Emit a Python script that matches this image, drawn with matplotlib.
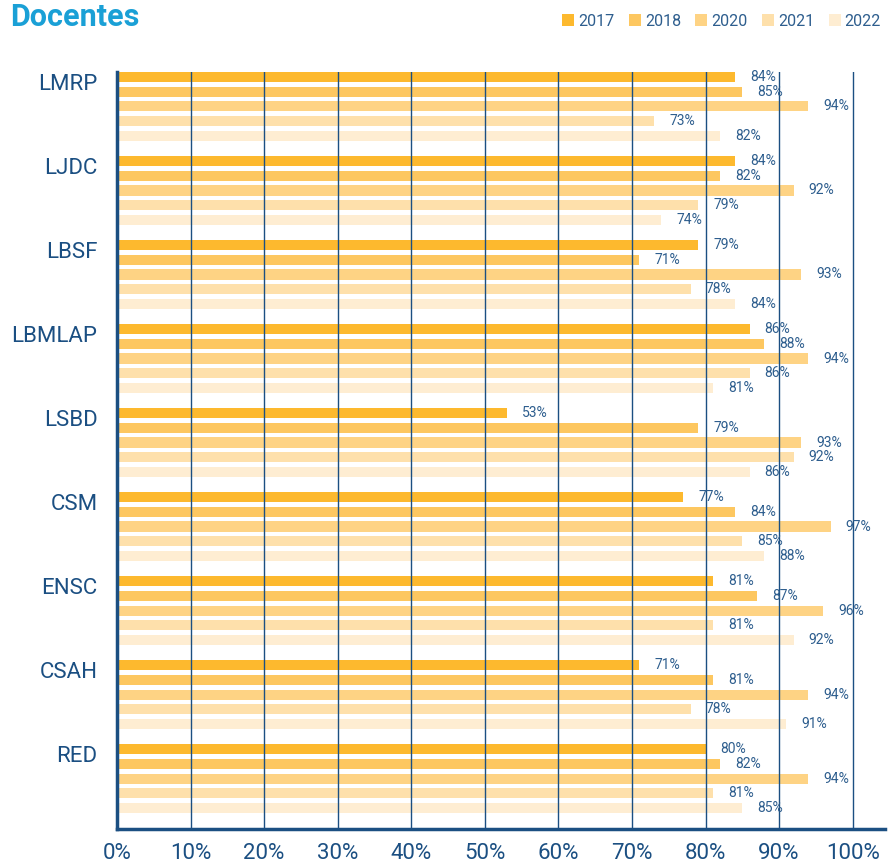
import matplotlib
matplotlib.use("Agg")
import matplotlib.pyplot as plt
from matplotlib.patches import Patch
import numpy as np

categories = ["LMRP", "LJDC", "LBSF", "LBMLAP", "LSBD", "CSM", "ENSC", "CSAH", "RED"]
years = ["2017", "2018", "2020", "2021", "2022"]
v2017 = [84, 84, 79, 86, 53, 77, 81, 71, 80]
v2018 = [85, 82, 71, 88, 79, 84, 87, 81, 82]
v2020 = [94, 92, 93, 94, 93, 97, 96, 94, 94]
v2021 = [73, 79, 78, 86, 92, 85, 81, 78, 81]
v2022 = [82, 74, 84, 81, 86, 88, 92, 91, 85]
series = [v2017, v2018, v2020, v2021, v2022]
xticks = [0, 10, 20, 30, 40, 50, 60, 70, 80, 90, 100]
xticklabels = [f"{t}%" for t in xticks]

colors = ["#FDB92E", "#FDC760", "#FED384", "#FEE0AB", "#FEEDD2"]
navy = "#1B4F82"
txt = "#2E5E8E"

plt.rcParams['font.family'] = ['Roboto', 'DejaVu Sans']

fig = plt.figure(figsize=(8.89, 8.64), dpi=100)
ax = fig.add_axes([117/889, 1 - 829/864, (885 - 117)/889, (829 - 72)/864])

pitch = 0.175
bh = 0.12
ypos = np.arange(len(categories))
for j, (vals, c, yr) in enumerate(zip(series, colors, years)):
    y = ypos + (j - 2) * pitch
    ax.barh(y, vals, height=bh, color=c, zorder=1, label=yr)
    for yy, v in zip(y, vals):
        ax.annotate(f"{v}%", xy=(v, yy), xytext=(15, 0), textcoords="offset pixels",
                    va="center", ha="left", fontsize=10, color=txt, zorder=3)

ax.set_xlim(0, 104.4)
ax.set_ylim(8.60, -0.41)
ax.set_xticks(xticks)
ax.set_xticklabels(xticklabels, fontsize=16, color=navy)
ax.set_yticks(ypos - 0.29)
ax.set_yticklabels(categories, fontsize=16, color=navy)
ax.tick_params(axis="both", length=0)
ax.tick_params(axis="x", pad=10)
ax.tick_params(axis="y", pad=14)
for t in xticks[1:]:
    ax.axvline(t, color=navy, lw=1.0, zorder=2)
for s in ["top", "right"]:
    ax.spines[s].set_visible(False)
for s in ["left", "bottom"]:
    ax.spines[s].set_color(navy)
    ax.spines[s].set_linewidth(2.5)
    ax.spines[s].set_zorder(4)

fig.text(10/889, 1 - 17/864, "Docentes", fontsize=22, fontweight="bold",
         color="#1AA0D6", va="center", ha="left")

handles = [Patch(facecolor=c, edgecolor="none") for c in colors]
fig.legend(handles, years, loc="center right", bbox_to_anchor=(1.0, 1 - 21/864),
           ncol=5, frameon=False, fontsize=11.5, handlelength=0.75, handleheight=0.75,
           handletextpad=0.25, columnspacing=0.9, labelcolor=txt, borderaxespad=0.1)

fig.savefig("out.png", dpi=100)
